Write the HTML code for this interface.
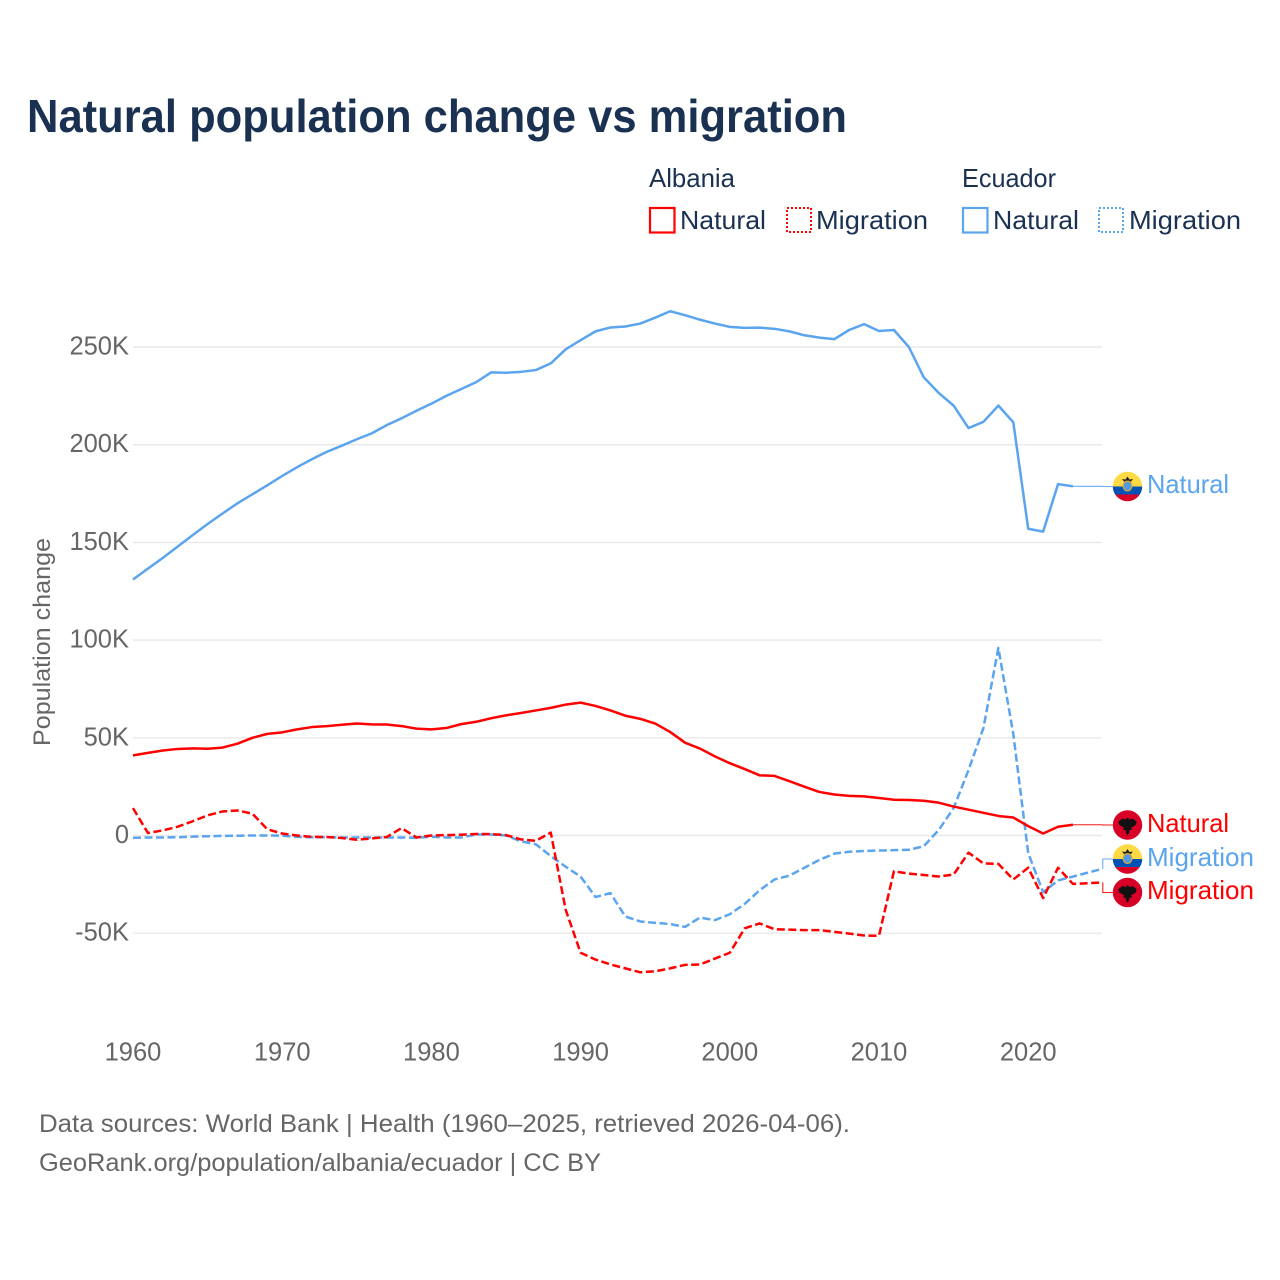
<!DOCTYPE html>
<html lang="en">
<head>
<meta charset="utf-8">
<title>Natural population change vs migration</title>
<style>
html,body{margin:0;padding:0;background:#fff;}
svg{display:block;font-family:"Liberation Sans",sans-serif;}
</style>
</head>
<body>
<svg id="chart" xmlns="http://www.w3.org/2000/svg" width="1280" height="1280" viewBox="0 0 1280 1280">
  <rect width="1280" height="1280" fill="#fff"/>
  <text x="27" y="132" font-size="46" font-weight="700" fill="#1a3151" textLength="820" lengthAdjust="spacingAndGlyphs">Natural population change vs migration</text>

  <g font-size="26" fill="#1a3151">
    <text x="649" y="187" textLength="86" lengthAdjust="spacingAndGlyphs">Albania</text>
    <text x="962" y="187" textLength="94" lengthAdjust="spacingAndGlyphs">Ecuador</text>
    <rect x="650" y="208" width="24.5" height="24.5" fill="none" stroke="#ff0000" stroke-width="2.2"/>
    <text x="680" y="229" textLength="86" lengthAdjust="spacingAndGlyphs">Natural</text>
    <rect x="787" y="208" width="24" height="24" fill="none" stroke="#ff0000" stroke-width="2" stroke-dasharray="2 2"/>
    <text x="816" y="229" textLength="112" lengthAdjust="spacingAndGlyphs">Migration</text>
    <rect x="963" y="208" width="24.5" height="24.5" fill="none" stroke="#5ba4ee" stroke-width="2.2"/>
    <text x="993" y="229" textLength="86" lengthAdjust="spacingAndGlyphs">Natural</text>
    <rect x="1099" y="208" width="24" height="24" fill="none" stroke="#5ba4ee" stroke-width="2" stroke-dasharray="2 2"/>
    <text x="1129" y="229" textLength="112" lengthAdjust="spacingAndGlyphs">Migration</text>
  </g>

  <g id="grid"></g>
  <g id="yTicks" font-size="25.5" fill="#666" text-anchor="end"></g>
  <g id="xTicks" font-size="25.5" fill="#666" text-anchor="middle"></g>
  <text transform="translate(50,746) rotate(-90)" font-size="24.5" fill="#666" textLength="208" lengthAdjust="spacingAndGlyphs">Population change</text>

  <g id="series"></g>
  <g id="connectors"></g>

  <defs>
    <clipPath id="flagClip"><circle cx="0" cy="0" r="14.7"/></clipPath>
    <g id="flagAlbania">
      <g clip-path="url(#flagClip)">
        <rect x="-15" y="-15" width="30" height="30" fill="#d80027"/>
        <path d="M0 -7.5 L2 -5.5 L5 -6.5 L9 -3.5 L8.5 -0.5 L6 1.5 L3.5 2.5 L4.5 5 L2 5 L1.5 8 L0 10.5 L-1.5 8 L-2 5 L-4.5 5 L-3.5 2.5 L-6 1.5 L-8.5 -0.5 L-9 -3.5 L-5 -6.5 L-2 -5.5 Z" fill="#111"/>
      </g>
    </g>
    <g id="flagEcuador">
      <g clip-path="url(#flagClip)">
        <rect x="-15" y="-15" width="30" height="15" fill="#ffda44"/>
        <rect x="-15" y="0" width="30" height="8" fill="#0052b4"/>
        <rect x="-15" y="8" width="30" height="7" fill="#d80027"/>
        <path d="M-5.5 -7.5 L-2 -7 L0 -10 L2 -7 L5.5 -7.5 L3 -4.5 L-3 -4.5 Z" fill="#222"/>
        <ellipse cx="0" cy="-0.5" rx="5" ry="5.5" fill="#e0a92e"/>
        <ellipse cx="0" cy="-0.5" rx="3.7" ry="4.4" fill="#4f9be8"/>
      </g>
    </g>
  </defs>

  <g font-size="26">
    <use href="#flagEcuador" x="1127.5" y="486.5"/>
    <text x="1147" y="493" fill="#5ba4ee" textLength="82" lengthAdjust="spacingAndGlyphs">Natural</text>
    <use href="#flagAlbania" x="1127.5" y="825"/>
    <text x="1147" y="832" fill="#ff0000" textLength="82" lengthAdjust="spacingAndGlyphs">Natural</text>
    <use href="#flagEcuador" x="1127.5" y="859"/>
    <text x="1147" y="866" fill="#5ba4ee" textLength="107" lengthAdjust="spacingAndGlyphs">Migration</text>
    <use href="#flagAlbania" x="1127.5" y="892.5"/>
    <text x="1147" y="899" fill="#ff0000" textLength="107" lengthAdjust="spacingAndGlyphs">Migration</text>
  </g>

  <text x="39" y="1132" font-size="25" fill="#666" textLength="811" lengthAdjust="spacingAndGlyphs">Data sources: World Bank | Health (1960–2025, retrieved 2026-04-06).</text>
  <text x="39" y="1171" font-size="25" fill="#666" textLength="562" lengthAdjust="spacingAndGlyphs">GeoRank.org/population/albania/ecuador | CC BY</text>
</svg>

<script>
const years = [1960,1961,1962,1963,1964,1965,1966,1967,1968,1969,1970,1971,1972,1973,1974,1975,1976,1977,1978,1979,1980,1981,1982,1983,1984,1985,1986,1987,1988,1989,1990,1991,1992,1993,1994,1995,1996,1997,1998,1999,2000,2001,2002,2003,2004,2005,2006,2007,2008,2009,2010,2011,2012,2013,2014,2015,2016,2017,2018,2019,2020,2021,2022,2023,2024,2025];
const albaniaNatural = [41,42.3,43.5,44.3,44.6,44.4,45,47,50,52,52.8,54.3,55.5,56,56.7,57.3,56.9,56.8,56,54.7,54.3,55,57,58.2,60,61.5,62.7,64,65.3,67,68,66.3,64,61.3,59.7,57.3,53,47.5,44.5,40.5,37,34,30.8,30.5,27.8,25,22.3,21,20.3,20,19.2,18.3,18.2,17.8,16.8,14.8,13.2,11.6,10,9.2,4.8,1,4.5,5.5];
const ecuadorNatural = [131,136.6,142.1,147.9,153.7,159.4,164.8,170,174.6,179.2,184,188.5,192.6,196.4,199.5,202.8,205.8,210,213.5,217.4,221,225,228.5,232,237,236.8,237.3,238.2,241.6,248.8,253.5,258,260,260.5,262,265,268.3,266.3,264,262,260.3,259.8,259.9,259.3,258,256,254.8,254,258.7,261.7,258.2,258.7,250,234.5,226.5,220,208.5,211.7,220,211.5,157,155.5,179.8,178.7];
const albaniaMigration = [14,1.3,2.6,4.5,7.3,10.3,12.3,12.8,11.2,3.2,1,0,-0.7,-0.8,-1.3,-2.2,-1.5,-0.8,3.8,-1,0,0.2,0.4,0.8,0.7,0.2,-2,-2.7,1.5,-38,-60,-63.5,-66,-68,-70,-69.5,-68,-66.2,-66,-63,-60,-47.5,-45,-48,-48.2,-48.4,-48.4,-49.3,-50.2,-51.2,-51.3,-18.3,-19.5,-20.2,-21,-20,-8.8,-14.3,-14.5,-22.5,-16.5,-32,-16.5,-24.8,-24.4,-24];
const ecuadorMigration = [-1.2,-1,-1,-0.9,-0.6,-0.4,-0.2,-0.1,0,0,-0.1,-0.7,-0.9,-0.9,-1,-1,-1,-1,-1,-1.2,-0.6,-1,-1,0.5,0.5,0,-3,-4.5,-10.5,-16,-21,-31.5,-29.5,-41.5,-44,-44.7,-45.3,-46.8,-42,-43.3,-40.3,-35,-28,-22.5,-20.5,-16.5,-12.5,-9.3,-8.3,-7.9,-7.7,-7.5,-7.3,-5.5,2.8,14,33.5,55,96,52,-9,-29,-23,-21,-19,-17];
const yTickValues = [-50,0,50,100,150,200,250];
const yTickLabels = ["-50K","0","50K","100K","150K","200K","250K"];
const xTickValues = [1960,1970,1980,1990,2000,2010,2020];
const xTickLabels = ["1960","1970","1980","1990","2000","2010","2020"];

const NS = "http://www.w3.org/2000/svg";
const xAxis = function (year) { return 133 + (year - 1960) * 14.92; };
const yAxis = function (k) { return 835.5 - k * 1.954; };
const RED = "#ff0000";
const BLUE = "#5ba4ee";

function make(tag, attrs, parent) {
  const el = document.createElementNS(NS, tag);
  Object.keys(attrs).forEach(function (k) { el.setAttribute(k, attrs[k]); });
  parent.appendChild(el);
  return el;
}

const grid = document.getElementById("grid");
const yTicksGroup = document.getElementById("yTicks");
const xTicksGroup = document.getElementById("xTicks");

yTickValues.forEach(function (v, i) {
  const line = make("line", { x1: 133, x2: 1102, y1: yAxis(v), y2: yAxis(v), stroke: "#e9e9e9", "stroke-width": 1.4 }, grid);
  
  
  const label = make("text", { x: 129, y: yAxis(v) + 7.5 }, yTicksGroup);
  label.textContent = yTickLabels[i];
  
  
});

xTickValues.forEach(function (v, i) {
  const label = make("text", { x: xAxis(v), y: 1060.5 }, xTicksGroup);
  label.textContent = xTickLabels[i];
  
  
});

function pathFor(values) {
  return values.map(function (v, i) {
    return (i ? "L" : "M") + xAxis(years[i]).toFixed(2) + " " + yAxis(v).toFixed(2);
  }).join(" ");
}

const seriesGroup = document.getElementById("series");
const connectorGroup = document.getElementById("connectors");

function drawSeries(values, color, dashed) {
  const attrs = { d: pathFor(values), fill: "none", stroke: color, "stroke-width": 2.5, "stroke-linejoin": "round" };
  if (dashed) attrs["stroke-dasharray"] = "8 3.5";
  return make("path", attrs, seriesGroup);
}

const lineEN = drawSeries(ecuadorNatural, BLUE, false);


const lineEM = drawSeries(ecuadorMigration, BLUE, true);


const lineAN = drawSeries(albaniaNatural, RED, false);


const lineAM = drawSeries(albaniaMigration, RED, true);



function drawConnector(values, color, labelY) {
  const i = values.length - 1;
  const x0 = xAxis(years[i]);
  const y0 = yAxis(values[i]);
  const elbow = Math.max(x0, 1102);
  const d = "M" + x0 + " " + y0 + " L" + elbow + " " + y0 + " L" + elbow + " " + labelY + " L1113 " + labelY;
  return make("path", { d: d, fill: "none", stroke: color, "stroke-width": 1.1, opacity: 0.9 }, connectorGroup);
}

const connEN = drawConnector(ecuadorNatural, BLUE, 486.5);


const connAN = drawConnector(albaniaNatural, RED, 825);


const connEM = drawConnector(ecuadorMigration, BLUE, 859);


const connAM = drawConnector(albaniaMigration, RED, 892.5);


</script>
</body>
</html>
